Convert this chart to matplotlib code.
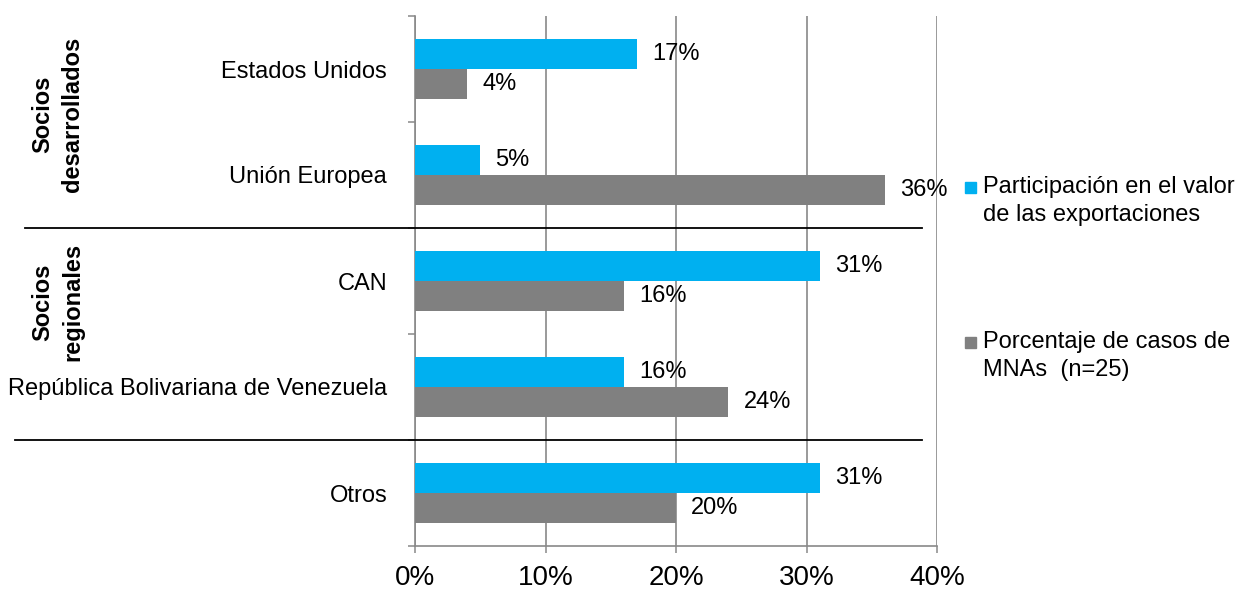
import numpy as np
import matplotlib
matplotlib.use("Agg")
import matplotlib.pyplot as plt
from matplotlib.patches import Rectangle

plt.rcParams['font.family'] = ['Liberation Sans', 'DejaVu Sans']

# Datos
categorias = ["Estados Unidos", "Unión Europea", "CAN",
              "República Bolivariana de Venezuela", "Otros"]
participacion = [17, 5, 31, 16, 31]
casos_mna = [4, 36, 16, 24, 20]
series = ["Participación en el valor\nde las exportaciones",
          "Porcentaje de casos de\nMNAs  (n=25)"]
grupos = ["Socios\ndesarrollados", "Socios\nregionales"]
xticks = [0, 10, 20, 30, 40]

azul = "#00B0F0"
gris = "#808080"
linea = "#898989"

fig = plt.figure(figsize=(12.39, 5.89), dpi=100)
ax = fig.add_axes([415 / 1239, 1 - 546 / 589, 522 / 1239, 530 / 589])

y = np.arange(len(categorias))
h = 0.283
b1 = ax.barh(y - h / 2, participacion, height=h, color=azul, zorder=3)
b2 = ax.barh(y + h / 2, casos_mna, height=h, color=gris, zorder=3)
ax.bar_label(b1, labels=[f"{v}%" for v in participacion], padding=11,
             fontsize=17, clip_on=False)
ax.bar_label(b2, labels=[f"{v}%" for v in casos_mna], padding=11,
             fontsize=17, clip_on=False)

ax.set_xlim(0, 40)
ax.set_ylim(len(categorias) - 0.5, -0.5)
ax.set_xticks(xticks)
ax.set_xticklabels([f"{t}%" for t in xticks], fontsize=20)
ax.set_yticks(y)
ax.set_yticklabels(categorias, fontsize=17)
ax.tick_params(axis='y', length=0, pad=20)
ax.set_yticks(np.arange(-0.5, len(categorias)), minor=True)
ax.tick_params(axis='y', which='minor', length=5, width=1.1, color=linea)
ax.tick_params(axis='x', length=5, width=1.1, color=linea, pad=9)

ax.grid(axis='x', color=linea, linewidth=1.2, zorder=0)
for s in ["top", "right"]:
    ax.spines[s].set_visible(False)
for s in ["left", "bottom"]:
    ax.spines[s].set_color(linea)
    ax.spines[s].set_linewidth(1.2)

# Separadores de grupos
tr = ax.get_yaxis_transform()
ax.plot([-0.747, 0.971], [1.5, 1.5], color="black", lw=1.3,
        transform=tr, clip_on=False, zorder=4)
ax.plot([-0.766, 0.971], [3.5, 3.5], color="black", lw=1.3,
        transform=tr, clip_on=False, zorder=4)

# Etiquetas de grupos
for g, yy in zip(grupos, [0.43, 2.2]):
    ax.text(-0.685, yy, g, transform=tr, rotation=90, ha='center', va='center',
            fontsize=17, fontweight='bold', multialignment='center',
            linespacing=1.4)

# Leyenda
for nombre, col, yc, ys in zip(series, [azul, gris], [201, 356], [187, 342]):
    fig.patches.append(Rectangle((965 / 1239, 1 - (ys + 6) / 589), 11 / 1239,
                                 11 / 589, color=col,
                                 transform=fig.transFigure))
    fig.text(983 / 1239, 1 - yc / 589, nombre, ha='left', va='center',
             fontsize=17, linespacing=1.3)

fig.savefig("out.png", dpi=100)
